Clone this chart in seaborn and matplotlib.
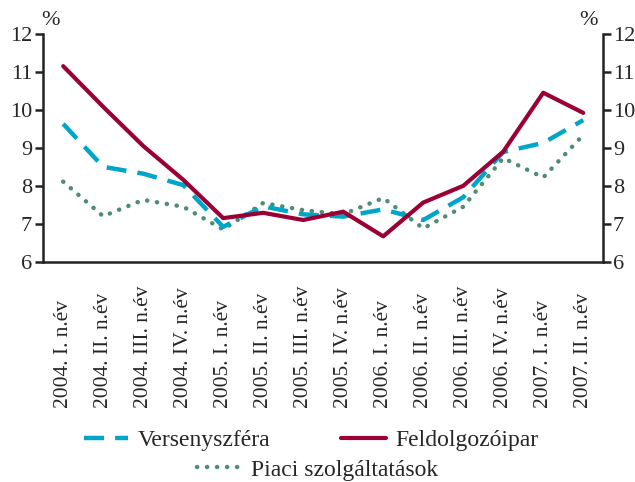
import numpy as np
import pandas as pd
import matplotlib
matplotlib.use('Agg')
import matplotlib.pyplot as plt
import seaborn as sns
from matplotlib.lines import Line2D

categories = ['2004. I. n.év', '2004. II. n.év', '2004. III. n.év', '2004. IV. n.év',
              '2005. I. n.év', '2005. II. n.év', '2005. III. n.év', '2005. IV. n.év',
              '2006. I. n.év', '2006. II. n.év', '2006. III. n.év', '2006. IV. n.év',
              '2007. I. n.év', '2007. II. n.év']
versenyszfera = [9.64, 8.51, 8.33, 8.03, 6.93, 7.47, 7.26, 7.20, 7.39, 7.11, 7.71, 8.90, 9.14, 9.74]
feldolgozoipar = [11.16, 10.09, 9.06, 8.17, 7.16, 7.30, 7.11, 7.33, 6.68, 7.57, 8.01, 8.91, 10.46, 9.93]
piaci = [8.12, 7.21, 7.64, 7.46, 6.86, 7.56, 7.37, 7.26, 7.69, 6.89, 7.46, 8.74, 8.23, 9.35]
yticks = [6, 7, 8, 9, 10, 11, 12]

sns.set_style('white')
plt.rcParams['font.family'] = ['Liberation Serif', 'DejaVu Serif']

df = pd.DataFrame({'x': np.arange(len(categories)),
                   'Versenyszféra': versenyszfera,
                   'Feldolgozóipar': feldolgozoipar,
                   'Piaci szolgáltatások': piaci})

fig = plt.figure(figsize=(6.35, 4.82), dpi=100)
ax = fig.add_axes([0.068, 0.456, 0.882, 0.473])

c_v = '#00A6C8'
c_f = '#9A0033'
c_p = '#4F8C72'

sns.lineplot(data=df, x='x', y='Piaci szolgáltatások', ax=ax, color=c_p, lw=3.2,
             linestyle=(0, (0.05, 2.2)), dash_capstyle='round')
sns.lineplot(data=df, x='x', y='Versenyszféra', ax=ax, color=c_v, lw=3.2,
             linestyle=(0, (4.5, 2.5)))
sns.lineplot(data=df, x='x', y='Feldolgozóipar', ax=ax, color=c_f, lw=3.0)

ax.set_xlim(-0.5, len(categories) - 0.5)
ax.set_ylim(6, 12)
ax.set_xlabel('')
ax.set_ylabel('')

# boundary ticks between quarters, labels at the centres (text starts on a common line)
ax.set_xticks(np.arange(-0.5, len(categories), 1.0))
ax.set_xticklabels([])
ax.set_xticks(np.arange(len(categories)), minor=True)
ax.set_xticklabels(categories, minor=True, rotation=90, fontsize=15.5, va='bottom')
ax.tick_params(axis='x', which='minor', length=0, pad=105)
ax.tick_params(axis='x', which='major', length=6, width=1.8, direction='out', color='#222222')

ax.set_yticks(yticks)
ax.set_yticklabels([str(v) for v in yticks], fontsize=16)
ax.tick_params(axis='y', length=6, width=1.8, direction='out', color='#222222', pad=2)

ax2 = ax.twinx()
ax2.set_ylim(6, 12)
ax2.set_yticks(yticks)
ax2.set_yticklabels([str(v) for v in yticks], fontsize=16)
ax2.tick_params(axis='y', length=6, width=1.8, direction='out', color='#222222', pad=1)

for a in (ax, ax2):
    a.spines['top'].set_visible(False)
    for s in ('left', 'right', 'bottom'):
        a.spines[s].set_linewidth(1.8)
        a.spines[s].set_color('#222222')
ax.spines['right'].set_visible(False)
ax2.spines['left'].set_visible(False)
ax2.spines['bottom'].set_visible(False)

fig.text(0.065, 0.957, '%', fontsize=16, ha='left', va='center')
fig.text(0.942, 0.957, '%', fontsize=16, ha='right', va='center')

h_v = Line2D([], [], color=c_v, lw=3.2, linestyle=(0, (4.5, 2.5)))
h_f = Line2D([], [], color=c_f, lw=3.0)
h_p = Line2D([], [], color=c_p, lw=3.2, linestyle=(0, (0.05, 2.2)), dash_capstyle='round')
leg1 = fig.legend([h_v, h_f], ['Versenyszféra', 'Feldolgozóipar'], ncol=2,
                  loc='center', bbox_to_anchor=(0.49, 0.087), frameon=False,
                  fontsize=17, handlelength=1.9, handletextpad=0.4, columnspacing=3.0)
leg2 = fig.legend([h_p], ['Piaci szolgáltatások'], loc='center',
                  bbox_to_anchor=(0.5, 0.025), frameon=False,
                  fontsize=17, handlelength=1.9, handletextpad=0.4)

fig.savefig('out.png', dpi=100)
